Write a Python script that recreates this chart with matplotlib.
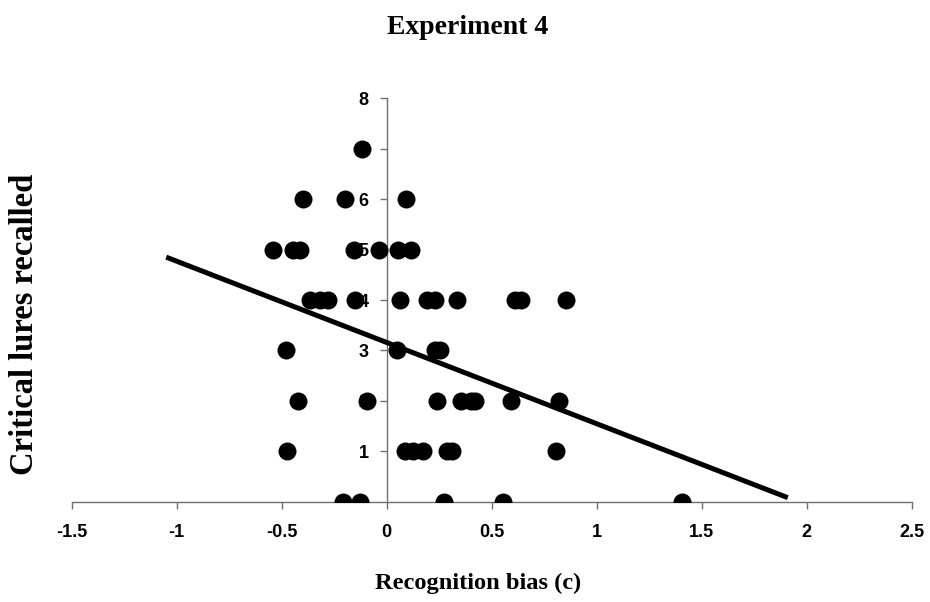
import matplotlib
matplotlib.use("Agg")
import matplotlib.pyplot as plt

# Recognition bias (c) per participant, grouped by critical lures recalled
bias = [
    -0.116,
    -0.397, -0.199, 0.092,
    -0.543, -0.445, -0.414, -0.155, -0.036, 0.053, 0.117,
    -0.365, -0.317, -0.278, -0.151, 0.063, 0.190, 0.230, 0.336, 0.611, 0.638, 0.852,
    -0.480, 0.051, 0.230, 0.254,
    -0.424, -0.095, 0.238, 0.352, 0.400, 0.420, 0.590, 0.822,
    -0.476, 0.085, 0.125, 0.172, 0.286, 0.310, 0.805,
    -0.210, -0.126, 0.274, 0.555, 1.405,
]
recalled = (
    [7] * 1 + [6] * 3 + [5] * 7 + [4] * 11 + [3] * 4 + [2] * 8 + [1] * 7 + [0] * 5
)

# Linear trend line endpoints
trend_x = [-1.05, 1.91]
trend_y = [4.85, 0.08]

x_ticks = [-1.5, -1, -0.5, 0, 0.5, 1, 1.5, 2, 2.5]
x_tick_labels = ["-1.5", "-1", "-0.5", "0", "0.5", "1", "1.5", "2", "2.5"]
y_ticks = [1, 2, 3, 4, 5, 6, 7, 8]
y_tick_labels = ["1", "2", "3", "4", "5", "6", "7", "8"]

fig = plt.figure(figsize=(9.30, 6.02), dpi=100)
ax = fig.add_axes([0.0771, 0.1666, 0.9032, 0.6701])

ax.scatter(bias, recalled, s=168, color="black", zorder=3, linewidths=0)
ax.plot(trend_x, trend_y, color="black", linewidth=3.6, solid_capstyle="butt", zorder=4)

ax.set_xlim(-1.5, 2.5)
ax.set_ylim(0, 8)

for side in ("top", "right"):
    ax.spines[side].set_visible(False)
ax.spines["left"].set_position(("data", 0))
ax.spines["bottom"].set_position(("data", 0))
for side in ("left", "bottom"):
    ax.spines[side].set_color("#707070")
    ax.spines[side].set_linewidth(1.0)

ax.set_xticks(x_ticks)
ax.set_xticklabels(x_tick_labels)
ax.set_yticks(y_ticks)
ax.set_yticklabels(y_tick_labels)
ax.tick_params(axis="both", direction="out", length=5, width=1.0, color="#707070",
               labelsize=13)
ax.tick_params(axis="x", pad=11)
ax.tick_params(axis="y", pad=8)
for lbl in ax.get_xticklabels() + ax.get_yticklabels():
    lbl.set_fontfamily("Liberation Sans")
    lbl.set_fontweight("bold")

serif = "Liberation Serif"
fig.text(0.503, 0.955, "Experiment 4", ha="center", va="center",
         fontsize=20, fontweight="bold", fontfamily=serif)
fig.text(0.514, 0.031, "Recognition bias (c)", ha="center", va="center",
         fontsize=17.6, fontweight="bold", fontfamily=serif)
fig.text(0.026, 0.461, "Critical lures recalled", ha="center", va="center",
         rotation=90, fontsize=23.5, fontweight="bold", fontfamily=serif)

fig.savefig("out.png", dpi=100)
